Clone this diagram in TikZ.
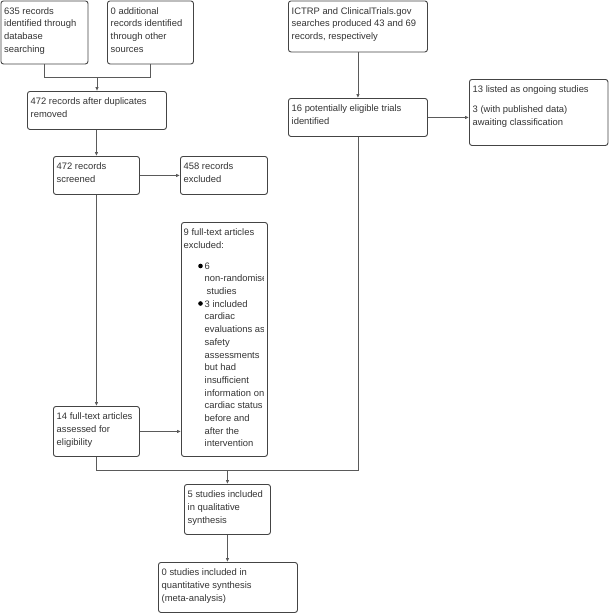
\documentclass[tikz,border=0pt]{standalone}
\usepackage{fontspec}
\setmainfont{Liberation Sans}
\usetikzlibrary{arrows.meta}
\definecolor{boxline}{HTML}{444444}
\definecolor{conline}{HTML}{5A5A5A}
\definecolor{txtcol}{HTML}{333333}
\tikzset{
  bx/.style={draw=boxline, line width=0.9pt, rounded corners=2.5pt, inner sep=0pt, anchor=north west},
  txt/.style={anchor=north west, inner sep=0pt, align=left, text=txtcol,
    font=\fontsize{9.4}{12.7}\selectfont},
  con/.style={draw=conline, line width=0.9pt},
  arr/.style={con, -{Latex[length=4pt,width=3.6pt]}},
  bullet/.style={circle, fill=black, inner sep=0pt, minimum size=4.6pt}
}
\newcommand\firstl{\rule{0pt}{9pt}}
\begin{document}
\begin{tikzpicture}[x=1pt,y=-1pt]
\useasboundingbox (0,0) rectangle (608,613);
% boxes
\node[bx, minimum width=87pt, minimum height=63pt] (A) at (0.5,0.5) {};
\node[txt] at ([xshift=3.5pt,yshift=-4.5pt]A.north west) {\firstl 635 records\\identified through\\database\\searching};
\node[bx, minimum width=86pt, minimum height=63pt] (B) at (107,0.5) {};
\node[txt] at ([xshift=3.5pt,yshift=-4.5pt]B.north west) {\firstl 0 additional\\records identified\\through other\\sources};
\node[bx, minimum width=139pt, minimum height=38pt] (C) at (27,91) {};
\node[txt] at ([xshift=3.5pt,yshift=-4.5pt]C.north west) {\firstl 472 records after duplicates\\removed};
\node[bx, minimum width=86pt, minimum height=38pt] (D) at (53,156) {};
\node[txt] at ([xshift=3.5pt,yshift=-4.5pt]D.north west) {\firstl 472 records\\screened};
\node[bx, minimum width=87pt, minimum height=38pt] (E) at (180,156) {};
\node[txt] at ([xshift=3.5pt,yshift=-4.5pt]E.north west) {\firstl 458 records\\excluded};
\node[bx, minimum width=86pt, minimum height=234pt] (F) at (181,222) {};
\begin{scope}
\clip ([xshift=1pt]F.north west) rectangle ([xshift=-4pt]F.south east);
\node[txt] (Ft) at ([xshift=2.5pt,yshift=-4.5pt]F.north west) {\firstl 9 full-text articles\\excluded:\\[8pt]
\hspace*{21pt}6\\
\hspace*{21pt}non-randomised\\
\hspace*{23pt}studies\\
\hspace*{21pt}3 included\\
\hspace*{21pt}cardiac\\
\hspace*{21pt}evaluations as\\
\hspace*{21pt}safety\\
\hspace*{21pt}assessments\\
\hspace*{21pt}but had\\
\hspace*{21pt}insufficient\\
\hspace*{21pt}information on\\
\hspace*{21pt}cardiac status\\
\hspace*{21pt}before and\\
\hspace*{21pt}after the\\
\hspace*{21pt}intervention};
\end{scope}
\node[bullet] (b1) at (200.5,266) {};
\node[bullet] (b2) at (200.5,303.5) {};
\node[bx, minimum width=86pt, minimum height=50pt] (G) at (53,406) {};
\node[txt] at ([xshift=3.5pt,yshift=-4.5pt]G.north west) {\firstl 14 full-text articles\\assessed for\\eligibility};
\node[bx, minimum width=86pt, minimum height=50pt] (I) at (184,484) {};
\node[txt] at ([xshift=3.5pt,yshift=-4.5pt]I.north west) {\firstl 5 studies included\\in qualitative\\synthesis};
\node[bx, minimum width=139pt, minimum height=50pt] (J) at (158,562) {};
\node[txt] at ([xshift=3.5pt,yshift=-4.5pt]J.north west) {\firstl 0 studies included in\\quantitative synthesis\\(meta-analysis)};
\node[bx, minimum width=139pt, minimum height=51pt] (K) at (288,0.5) {};
\node[txt] at ([xshift=3.5pt,yshift=-4.5pt]K.north west) {\firstl ICTRP and ClinicalTrials.gov\\searches produced 43 and 69\\records, respectively};
\node[bx, minimum width=139pt, minimum height=38pt] (H) at (288,98) {};
\node[txt] at ([xshift=3.5pt,yshift=-4.5pt]H.north west) {\firstl 16 potentially eligible trials\\identified};
\node[bx, minimum width=138.5pt, minimum height=66pt] (L) at (469,79) {};
\node[txt] at ([xshift=3.5pt,yshift=-4.5pt]L.north west) {\firstl 13 listed as ongoing studies\\[7pt]3 (with published data)\\awaiting classification};
% connectors
\coordinate (j1) at (97,77);
\draw[con] (A.south) |- (j1);
\draw[con] (B.south) |- (j1);
\draw[arr] (j1) -- (j1 |- C.north);
\draw[arr] (C.south -| D.north) -- (D.north);
\draw[arr] (E.west -| D.east) -- (E.west);
\draw[arr] (D.south) -- (G.north);
\draw[arr] (G.east) -- (G.east -| F.west);
\coordinate (j2) at (I.north |- 0,470);
\draw[con] (G.south) |- (j2);
\draw[con] (H.south) |- (j2);
\draw[arr] (j2) -- (I.north);
\draw[arr] (I.south) -- (I.south |- J.north);
\draw[arr] (K.south) -- (H.north);
\draw[arr] (H.east) -- (H.east -| L.west);
\end{tikzpicture}
\end{document}
